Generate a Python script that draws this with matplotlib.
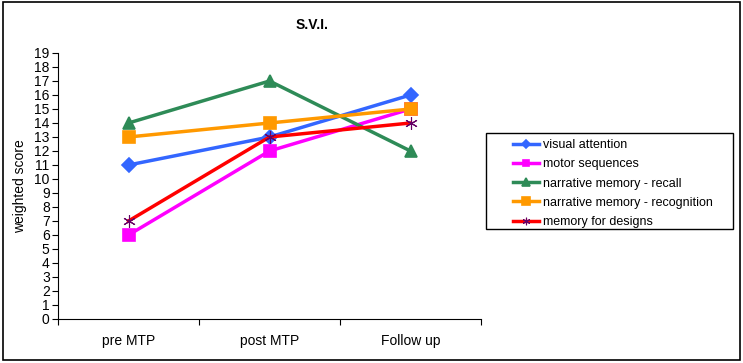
import matplotlib.pyplot as plt
from matplotlib.patches import Rectangle

plt.rcParams['font.family'] = ['Liberation Sans', 'DejaVu Sans']

# data
phases = ["pre MTP", "post MTP", "Follow up"]
visual_attention = [11, 13, 16]
motor_sequences = [6, 12, 15]
narrative_recall = [14, 17, 12]
narrative_recognition = [13, 14, 15]
memory_designs = [7, 13, 14]

series = [
    ("visual attention", visual_attention, "#3366FF", "D", "#3366FF", 7, 1.2),
    ("motor sequences", motor_sequences, "#FF00FF", "s", "#FF00FF", 8, 1.2),
    ("narrative memory - recall", narrative_recall, "#2E8B57", "^", "#2E8B57", 9, 1.2),
    ("narrative memory - recognition", narrative_recognition, "#FF9900", "s", "#FF9900", 9, 1.2),
    ("memory for designs", memory_designs, "#FF0000", (6, 2, 0), "#660066", 9, 0.8),
]

W, H = 743, 363
fig = plt.figure(figsize=(W / 100, H / 100), dpi=100)
ax = fig.add_axes([58 / W, 1 - 319 / H, (481 - 58) / W, (319 - 53) / H])

x = range(len(phases))
for label, vals, col, mk, mcol, ms, mew in series:
    ax.plot(x, vals, color=col, linewidth=2.5, marker=mk, markersize=ms,
            markerfacecolor=mcol, markeredgecolor=mcol, markeredgewidth=mew,
            label=label)

ax.set_xlim(-0.5, 2.5)
ax.set_ylim(0, 19)
ax.set_yticks(range(0, 20))
ax.set_xticks([-0.5, 0.5, 1.5, 2.5])
ax.set_xticklabels([])
ax.set_xticks(list(x), minor=True)
ax.set_xticklabels(phases, minor=True)
ax.tick_params(axis='x', which='minor', length=0, pad=11, labelsize=10)
ax.tick_params(axis='x', which='major', length=4, direction='out')
ax.tick_params(axis='y', length=4, labelsize=10, pad=2)
ax.spines['top'].set_visible(False)
ax.spines['right'].set_visible(False)
ax.set_ylabel("weighted score", fontsize=10, labelpad=5)

fig.text(312 / W, 1 - 25 / H, "S.V.I.", ha='center', va='center',
         fontsize=10, fontweight='bold')

# legend without its own frame, box drawn separately
leg = fig.legend(loc='upper left', bbox_to_anchor=(513 / W, 1 - 139 / H),
                 frameon=False, fontsize=9, borderaxespad=0, borderpad=0,
                 handlelength=2.1, handletextpad=0.3, labelspacing=0.58,
                 markerscale=0.6)
fig.patches.append(Rectangle((486 / W, 1 - 229 / H), (733 - 486) / W, (229 - 133) / H,
                             transform=fig.transFigure, fill=False,
                             edgecolor='black', linewidth=1))

fig.patches.append(Rectangle((0.004, 0.008), 0.992, 0.986, transform=fig.transFigure,
                             fill=False, edgecolor='black', linewidth=1.2))

fig.savefig("out.png", dpi=100)
